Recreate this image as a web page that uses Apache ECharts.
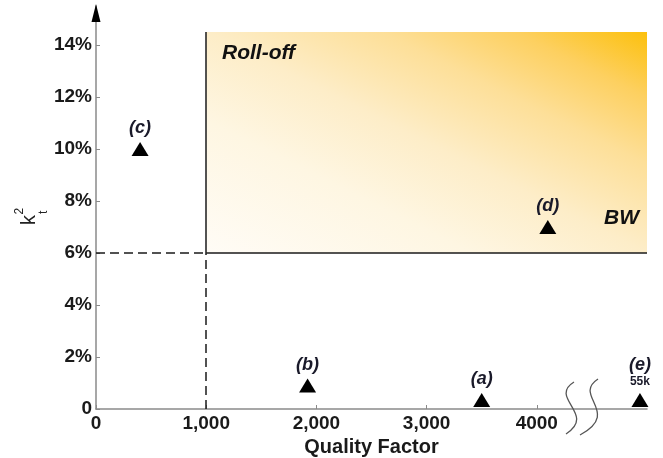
<!DOCTYPE html>
<html>
<head>
<meta charset="utf-8">
<script src="https://cdn.jsdelivr.net/npm/echarts@6/dist/echarts.min.js"></script>
<style>html,body{margin:0;padding:0;background:#fff}#c{width:663px;height:458px}</style>
</head>
<body>
<div id="c"></div>
<script>
// ---- data ----
const pointLabels = ['(a)', '(b)', '(c)', '(d)', '(e)'];
const qualityFactor = [3500, 1920, 400, 4100, 4936];
const kt2Percent = [0.35, 0.9, 10.0, 7.0, 0.35];
const xTickValues = [0, 1000, 2000, 3000, 4000];
const xTickLabels = ['0', '1,000', '2,000', '3,000', '4000'];
const yTickValues = [0, 2, 4, 6, 8, 10, 12, 14];
const yTickLabels = ['0', '2%', '4%', '6%', '8%', '10%', '12%', '14%'];
const qThreshold = 1000;
const kThreshold = 6;
const regionTop = 14.5;
const xMax = 5000;
const yMax = 15.5;

const FONT = '"Liberation Sans", Arial, sans-serif';
const TXT = '#1a1a1a';

const chart = echarts.init(document.getElementById('c'), null, {renderer: 'canvas'});

const points = qualityFactor.map((q, i) => ({
  value: [q, kt2Percent[i]],
  name: pointLabels[i],
  label: i === 4 ? {formatter: '{l|' + pointLabels[i] + '}\n{s|55k}'} : {formatter: pointLabels[i]}
}));

const option = {
  animation: false,
  grid: {left: 96, right: 16, top: 6, bottom: 49, containLabel: false, outerBoundsMode: 'none'},
  xAxis: {
    type: 'value', min: 0, max: xMax,
    splitLine: {show: false},
    axisLine: {lineStyle: {color: '#8a8a8a', width: 1.5}},
    axisTick: {inside: true, length: 4, lineStyle: {color: '#8a8a8a'}, customValues: xTickValues},
    axisLabel: {
      customValues: xTickValues,
      formatter: v => { const i = xTickValues.indexOf(v); return i >= 0 ? xTickLabels[i] : ''; },
      fontFamily: FONT, fontWeight: 'bold', fontSize: 19, color: TXT, margin: 5
    },
    name: 'Quality Factor', nameLocation: 'middle', nameGap: 24,
    nameTextStyle: {fontFamily: FONT, fontWeight: 'bold', fontSize: 20, color: TXT, verticalAlign: 'top'}
  },
  yAxis: {
    type: 'value', min: 0, max: yMax,
    splitLine: {show: false},
    axisLine: {lineStyle: {color: '#8a8a8a', width: 1.5}},
    axisTick: {inside: true, length: 4, lineStyle: {color: '#8a8a8a'}, customValues: yTickValues},
    axisLabel: {
      customValues: yTickValues,
      formatter: v => { const i = yTickValues.indexOf(v); return i >= 0 ? yTickLabels[i] : ''; },
      fontFamily: FONT, fontWeight: 'bold', fontSize: 19, color: TXT, margin: 4
    }
  },
  series: [{
    type: 'scatter',
    symbol: 'triangle',
    symbolSize: [17, 14],
    itemStyle: {color: '#000', opacity: 1},
    z: 5,
    label: {
      show: true, position: 'top', distance: 5,
      fontFamily: FONT, fontWeight: 'bold', fontStyle: 'italic', fontSize: 18, color: '#1a1a2a',
      rich: {
        l: {fontFamily: FONT, fontWeight: 'bold', fontStyle: 'italic', fontSize: 18, color: '#1a1a2a', lineHeight: 19, align: 'center'},
        s: {fontFamily: FONT, fontWeight: 'bold', fontStyle: 'normal', fontSize: 12, color: '#1a1a2a', lineHeight: 13, align: 'center'}
      }
    },
    data: points,
    markArea: {
      silent: true,
      itemStyle: {
        color: {
          type: 'linear', x: 0, y: 1, x2: 0.4, y2: -0.6,
          colorStops: [
            {offset: 0, color: '#fffcf6'},
            {offset: 0.3, color: '#fef6e2'},
            {offset: 0.5, color: '#fdedc8'},
            {offset: 0.7, color: '#fddf98'},
            {offset: 0.85, color: '#fdd060'},
            {offset: 1, color: '#fcc00c'}
          ]
        }
      },
      data: [[{coord: [qThreshold, kThreshold]}, {coord: [xMax, regionTop]}]]
    },
    markLine: {
      silent: true, symbol: 'none', label: {show: false},
      data: [
        [{coord: [qThreshold, kThreshold], lineStyle: {type: 'solid', color: '#1a1a1a', width: 1.5}},
         {coord: [qThreshold, regionTop]}],
        [{coord: [qThreshold, kThreshold], lineStyle: {type: 'solid', color: '#1a1a1a', width: 1.5}},
         {coord: [xMax, kThreshold]}],
        [{coord: [0, kThreshold], lineStyle: {type: [9, 5], color: '#1a1a1a', width: 1.5}},
         {coord: [qThreshold, kThreshold]}],
        [{coord: [qThreshold, 0], lineStyle: {type: [9, 5], color: '#1a1a1a', width: 1.5}},
         {coord: [qThreshold, kThreshold]}]
      ]
    }
  }],
  graphic: [
    {type: 'polygon', z: 10, shape: {points: [[96, 4], [91.5, 22], [100.5, 22]]}, style: {fill: '#000'}},
    {type: 'text', left: 222, top: 43, z: 10,
     style: {text: 'Roll-off', font: 'italic bold 21px ' + FONT, fill: '#111'}},
    {type: 'text', left: 604, top: 208, z: 10,
     style: {text: 'BW', font: 'italic bold 21px ' + FONT, fill: '#111'}},
    {type: 'group', x: 39, y: 225, rotation: Math.PI / 2, z: 10, children: [
      {type: 'text', x: 0, y: 0, style: {text: 'k', font: '20px ' + FONT, fill: '#222', verticalAlign: 'bottom'}},
      {type: 'text', x: 10.5, y: -13, style: {text: '2', font: '12px ' + FONT, fill: '#222', verticalAlign: 'bottom'}},
      {type: 'text', x: 11, y: 11, style: {text: 't', font: '12px ' + FONT, fill: '#222', verticalAlign: 'bottom'}}
    ]},
    {type: 'bezierCurve', z: 10, shape: {x1: 574, y1: 382, cpx1: 548, cpy1: 398, cpx2: 597, cpy2: 414, x2: 566, y2: 434},
     style: {stroke: '#555', lineWidth: 1.3, fill: null}},
    {type: 'bezierCurve', z: 10, shape: {x1: 598, y1: 379, cpx1: 572, cpy1: 396, cpx2: 622, cpy2: 412, x2: 580, y2: 435},
     style: {stroke: '#555', lineWidth: 1.3, fill: null}}
  ]
};
chart.setOption(option);
</script>
</body>
</html>
